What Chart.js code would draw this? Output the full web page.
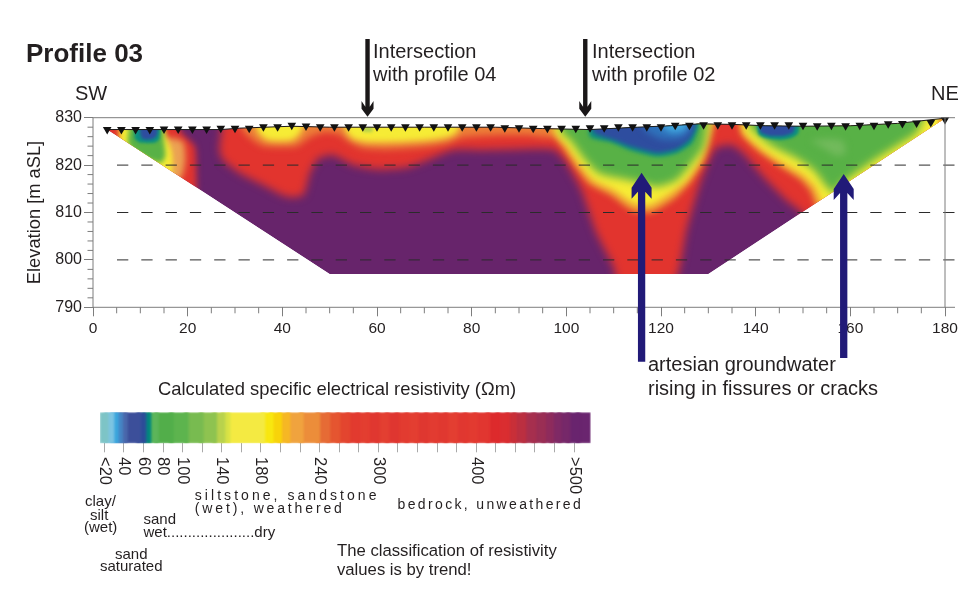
<!DOCTYPE html>
<html><head><meta charset="utf-8">
<script src="https://cdn.jsdelivr.net/npm/chart.js@4"></script>
<style>
html,body{margin:0;padding:0;background:#fff;width:974px;height:600px;overflow:hidden}
canvas{position:absolute;left:0;top:0}
</style></head><body>
<canvas id="profile" width="974" height="600"></canvas>
<canvas id="scale" width="974" height="600"></canvas>
<script>
// ---------- profile geometry (distance m, elevation m aSL)
const surfaceX=[3,27,31,42,50,70,85,95,105,115,122,128,135,142,150,160,170,180];
const surfaceY=[827.5,827.5,827.8,828.2,828,828,828,827.7,827.5,828,828.3,828.7,828.6,828.3,828.2,828.3,828.8,829.9];
const bottomX=[130,50];
const bottomY=[797,797];
// ---------- electrodes
const electrodeX=[3,6,9,12,15,18,21,24,27,30,33,36,39,42,45,48,51,54,57,60,63,66,69,72,75,78,81,84,87,90,93,96,99,102,105,108,111,114,117,120,123,126,129,132,135,138,141,144,147,150,153,156,159,162,165,168,171,174,177,180];
const electrodeY=[827.5,827.5,827.5,827.5,827.6,827.6,827.6,827.6,827.75,827.75,827.75,828.1,828.1,828.4,828.25,828.1,828.1,828.1,828.1,828.1,828.1,828.1,828.1,828.1,828.1,828.1,828.1,828.1,827.9,827.9,827.75,827.75,827.75,827.75,827.9,827.9,828.1,828.1,828.1,828.1,828.4,828.4,828.5,828.5,828.5,828.5,828.5,828.5,828.5,828.4,828.3,828.4,828.3,828.4,828.4,828.7,828.8,828.9,829,829.6];
// ---------- resistivity zones, painted back to front
const zoneRedMain=[[27.5,831],[27,826],[26.7,823.3],[27.5,821],[31,818.3],[35.3,816.1],[41,813.3],[44.4,813.7],[45.8,818.3],[47.6,821.4],[50.8,822.1],[55,820],[60,819.1],[66.3,819.5],[70.5,821],[76,823.2],[81.8,823.2],[88,823.3],[97.3,823.3],[99.7,821],[103.2,814.7],[106.4,805.6],[110,798.5],[111,795],[122.6,795],[125.4,806.3],[128.2,816.1],[131.4,823.5],[135,824.2],[137.4,822.5],[141.6,817.6],[146.5,812.6],[150,809.8],[152,806],[185,806],[185,835],[27.5,835]];
const zoneRedLeft=[[0,831],[16,831],[19,826.5],[21.5,824],[21.8,820],[21.3,813],[10,813],[0,825]];
const zoneOrangeLeft=[[15,826],[19,825],[19.5,821],[18.5,817],[15,817]];
const zoneYellowLeft=[[5.5,831],[14,831],[15.5,826],[16.6,823],[16.8,820],[16,816],[5.5,822]];
const zoneGreenLeft=[[8,831],[14.5,831],[15,825],[15.3,822],[14.5,820.5],[12,821],[8,823.5],[7.3,825]];
const zoneTealLeft=[[8.5,831],[14,831],[14,825.5],[13,824.7],[10,824.7],[8.8,825.5]];
const zoneBlueLeft=[[10,831],[13.5,831],[13.5,826.3],[12.5,825.5],[10.5,825.5],[10,826.5]];
const zoneOrangeTop=[[31,831],[31.5,827.5],[33.5,825.5],[36,824],[43,824],[46,826],[49,827],[52,826.5],[54,825],[57,823.6],[62,823.3],[70,823.8],[75,824.6],[78,825.8],[85,826.3],[92,826.3],[97,826],[99,831]];
const zoneYellowTopA=[[34,831],[34.8,827],[37,825.2],[42,825.2],[44,827],[45,831]];
const zoneYellowTopB=[[52.5,831],[53.5,827],[55,825.5],[58,824.8],[64,824.8],[70.5,825.2],[75,825.9],[77,827],[78,831]];
const zoneSpeck=[[57,828.3],[59,828.3],[59,827],[57,827]];
const zoneOrangeValley=[[96,831],[96.5,827],[99,824],[102,819.5],[104.8,816],[109.5,813.5],[114,810.3],[118,810],[123,813],[126.3,816.5],[129.2,821],[130.6,825.3],[132,831]];
const zoneYellowValley=[[97.3,831],[97.6,827],[100,824.2],[102.9,820],[105.7,816.8],[110,814.7],[114.2,811.9],[117.7,811.5],[122,814],[125.4,816.8],[128.2,821],[129.6,825.3],[131,831]];
const zoneGreenValley=[[98.7,831],[98.9,827],[100.8,825.3],[104,821],[106.8,818.3],[111.3,817.2],[116.3,816.1],[119.1,815.4],[123.3,816.8],[126.5,820.4],[129,823.9],[130.2,831]];
const zoneTealValley=[[105,831],[105,826],[109.2,824.9],[113.4,823.2],[119.1,821.8],[123.3,822.5],[126.5,824.6],[127.9,828.1],[128,831]];
const zoneBlueValley=[[105.6,831],[105.8,826.9],[109.8,825.4],[113.7,823.9],[119.1,822.6],[123.3,823.4],[126,825.4],[127.3,828],[127.4,831]];
const zoneMidBlueValley=[[116,831],[116.5,827.5],[120,825.5],[124,825.5],[126,827],[126.5,831]];
const zoneSkyValley=[[120,831],[120.5,828],[122,827],[124,827],[125.5,828],[125.8,831]];
const zoneOrangeRight=[[136.3,831],[136.8,826.7],[140.8,822.7],[145.7,819.3],[149.3,817],[151.5,814.5],[152.8,811],[154,808],[185,808],[185,835]];
const zoneYellowRight=[[137,831],[137.7,826.7],[141.6,823.2],[146.5,820],[150,817.9],[152.5,815.4],[153.9,812.3],[156,809],[185,809],[185,835]];
const zoneOrangeTip=[[178.6,828],[185,828],[185,835],[178.6,835]];
const zoneGreenRight=[[138.8,831],[138.8,828],[143.7,823.9],[148.7,821.4],[152.2,819],[155,815.4],[156.8,814],[157.5,815.5],[165,821],[170,824.2],[174,826.8],[176,831]];
const zonePaleRight=[[151.5,825.3],[156,825.5],[158.5,825],[159,822.5],[157,822],[155,823.2]];
const zoneTealRight=[[140,831],[140.6,826.5],[142,825.7],[145,825.3],[147.5,825.7],[149,826.7],[149.5,831]];
const zoneBlueRight=[[140.7,831],[141,827],[143,826.2],[146,826.2],[148,827],[148.5,831]];
const zones=[
 [zoneRedMain,'#e2342e',4],[zoneRedLeft,'#e2342e',3],[zoneOrangeLeft,'#eba253',3],[zoneYellowLeft,'#f6ec35',2.5],[zoneGreenLeft,'#58b146',2.5],[zoneTealLeft,'#0b8f80',1.5],[zoneBlueLeft,'#2e4d9f',1.5],
 [zoneOrangeTop,'#ec7f38',3.5],[zoneYellowTopA,'#f6ec35',3],[zoneYellowTopB,'#f6ec35',3],[zoneSpeck,'#b8d24a',1.5],
 [zoneOrangeValley,'#ef9a34',3],[zoneYellowValley,'#f6ec35',3],[zoneGreenValley,'#58b146',4],[zoneTealValley,'#0b8f80',2],[zoneBlueValley,'#2e4d9f',2],[zoneMidBlueValley,'#2f72bb',3.5],[zoneSkyValley,'#41a9e0',3],
 [zoneOrangeRight,'#ef9a34',3],[zoneYellowRight,'#f6ec35',3],[zoneOrangeTip,'#ef9a34',1.5],[zoneGreenRight,'#58b146',4],[zonePaleRight,'#72ba5c',3.5],[zoneTealRight,'#0b8f80',1.5],[zoneBlueRight,'#2e4d9f',1.5]
];
// ---------- axes
const xMajor=20, xStep=5, yMajor=10, yStep=2;
const dashedLevels=[800,810,820];
// ---------- arrows (tip distance, tip elevation, tail elevation)
const blackArrowX=[58,104], blackArrowTip=[830.2,830.2], blackArrowTail=[846.6,846.6];
const blueArrowX=[115.9,158.6], blueArrowTip=[818.4,818.1], blueArrowTail=[778.5,779.3];
// ---------- colour scale
const scaleEdges=[15.6,24.1,29.9,34.3,38.8,43.5,57.2,62.6,67.7,75.2,90.5,105.8,121.1,134.8,143.3,148.4,184.1,192.6,201.2,209.7,223.3,240.3,250.6,260.8,271,281,291,301,311,321,331,341,351,361,371,381,391,401,414,424,434,441,451,461,471,479,487,496,506,517];
const scaleColors=['#7dc4c6','#7cc4e2','#3ba6dd','#4584c4','#4a68ac','#3c4f9a','#2d4d99','#03877e','#5cb55a','#52ae4a','#5db44e','#78bb50','#8ec350','#b9d24c','#d8e245','#f4ea42','#f8e710','#f8d30a','#f6b724','#f0a33e','#ec8d3a','#e66b35','#e55530','#e3452f','#e23a2f','#e33e30','#e03730','#e33f31','#df3630','#e23b30','#e33e31','#df3730','#e23b31','#e03830','#e33e31','#e03730','#e23a30','#e13630','#dd2a2c','#da2d30','#c92f38','#bb2f40','#a62f4e','#9a2e54','#8e2b5c','#7f2965','#762869','#69246e','#6a256f'];
const scaleTicks=[20,40,60,80,100,120,140,160,180,200,220,240,260,280,300,320,340,360,380,400,420,440,460,480,500];
const scaleLabels={20:'<20',40:'40',60:'60',80:'80',100:'100',140:'140',180:'180',240:'240',300:'300',400:'400',500:'>500'};

const FONT='"Liberation Sans", Arial, sans-serif';
const INK='#231f20';
const AXIS='#7d7d7d';
const texts=[
 ['Profile 03',26,55,'bold 26px',0],
 ['SW',75,94,'20px',0],['NE',931,94,'20px',0],
 ['Intersection',373,52,'20px',0],['with profile 04',373,75,'20px',0],
 ['Intersection',592,52,'20px',0],['with profile 02',592,75,'20px',0],
 ['artesian groundwater',648,365,'20px',0],['rising in fissures or cracks',648,389,'20px',0],
 ['Calculated specific electrical resistivity (Ωm)',158,390,'18.4px',0],
 ['clay/',85,502,'15px',0],['silt',90,515.5,'15px',0],['(wet)',84,528,'15px',0],
 ['sand',143.5,519.5,'15px',0],['wet.....................dry',143.5,533,'15px',0],
 ['sand',115,554.5,'15px',0],['saturated',100,566.5,'15px',0],
 ['siltstone, sandstone',194.8,496,'14px','3.05px'],['(wet), weathered',194.8,509,'14px','2.85px'],
 ['bedrock, unweathered',397.6,505,'14px','2.35px'],
 ['The classification of resistivity',337,551,'16.7px',0],['values is by trend!',337,570,'16.7px',0]
];

const toPoints=a=>a.map(p=>({x:p[0],y:p[1]}));
const surfacePoints=surfaceX.map((x,i)=>({x,y:surfaceY[i]}));
const outlinePoints=surfacePoints.concat(bottomX.map((x,i)=>({x,y:bottomY[i]})));

const painted=[
 {label:'bedrock',data:outlinePoints,backgroundColor:'#67246b',fill:'shape',borderWidth:0,pointRadius:0,tension:0,role:'base'}
];
zones.forEach(z=>painted.push({label:'zone',data:toPoints(z[0]),backgroundColor:z[1],fill:'shape',borderWidth:0,pointRadius:0,tension:0.2,blur:z[2],role:'zone'}));
painted.push({label:'surface',data:surfacePoints,borderColor:'#1a1a1a',borderWidth:1,pointRadius:0,fill:false,tension:0,clip:false});
painted.push({label:'electrodes',data:electrodeX.map((x,i)=>({x,y:electrodeY[i]})),showLine:false,pointStyle:'triangle',rotation:180,pointRadius:5,pointBackgroundColor:'#111',pointBorderWidth:0,clip:false});
painted.forEach((d,i)=>{d.order=painted.length-i;d.paintIndex=i;});

function arrow(ctx,x,tipY,tailY,shaft,wing,shoulder,back,join,color){
  const s=tailY>tipY?1:-1;
  ctx.fillStyle=color;ctx.beginPath();
  ctx.moveTo(x,tipY);
  ctx.lineTo(x+wing/2,tipY+s*shoulder);ctx.lineTo(x+wing/2,tipY+s*back);ctx.lineTo(x+shaft/2,tipY+s*join);
  ctx.lineTo(x+shaft/2,tailY);ctx.lineTo(x-shaft/2,tailY);ctx.lineTo(x-shaft/2,tipY+s*join);
  ctx.lineTo(x-wing/2,tipY+s*back);ctx.lineTo(x-wing/2,tipY+s*shoulder);ctx.closePath();ctx.fill();
}
const profilePlugin={
  id:'profileLook',
  beforeDatasetsDraw(chart){
    const c=chart.ctx,sx=chart.scales.x,sy=chart.scales.y;
    c.save();c.beginPath();
    outlinePoints.forEach((p,i)=>{const X=sx.getPixelForValue(p.x),Y=sy.getPixelForValue(p.y);i?c.lineTo(X,Y):c.moveTo(X,Y);});
    c.closePath();c.clip();c.filter='none';
  },
  afterDatasetDraw(chart,args){
    const c=chart.ctx,d=chart.data.datasets[args.index],next=painted[d.paintIndex+1];
    if(d.role&&next&&next.role==='zone'){c.filter='blur('+next.blur+'px)';}
    else if(d.role){c.filter='none';c.restore();}
  },
  afterDatasetsDraw(chart){
    const c=chart.ctx,sx=chart.scales.x,sy=chart.scales.y,a=chart.chartArea;
    c.save();
    // dashed levels
    c.strokeStyle='#2b2b2b';c.lineWidth=1;c.setLineDash([11.3,13]);
    dashedLevels.forEach(v=>{const Y=sy.getPixelForValue(v);c.beginPath();c.moveTo(a.left+24,Y);c.lineTo(a.right+10,Y);c.stroke();});
    c.setLineDash([]);
    // frame
    c.strokeStyle=AXIS;c.lineWidth=1;
    c.beginPath();c.moveTo(a.left,a.top);c.lineTo(a.right+10,a.top);c.moveTo(a.right,a.top);c.lineTo(a.right,a.bottom);
    c.moveTo(a.left,a.top);c.lineTo(a.left,a.bottom);c.moveTo(a.left,a.bottom);c.lineTo(a.right+10,a.bottom);c.stroke();
    // minor ticks
    sx.ticks.forEach(t=>{if(t.value%xMajor){const X=sx.getPixelForValue(t.value);c.beginPath();c.moveTo(X,a.bottom);c.lineTo(X,a.bottom+6);c.stroke();}});
    sy.ticks.forEach(t=>{if(t.value%yMajor){const Y=sy.getPixelForValue(t.value);c.beginPath();c.moveTo(a.left,Y);c.lineTo(a.left-5.5,Y);c.stroke();}});
    // arrows
    blackArrowX.forEach((v,i)=>arrow(c,sx.getPixelForValue(v),sy.getPixelForValue(blackArrowTip[i]),sy.getPixelForValue(blackArrowTail[i]),4.4,12,8,15.7,10,'#1a1718'));
    blueArrowX.forEach((v,i)=>arrow(c,sx.getPixelForValue(v),sy.getPixelForValue(blueArrowTip[i]),sy.getPixelForValue(blueArrowTail[i]),7.3,20,15,26,19,'#211a78'));
    // notes
    c.fillStyle=INK;c.textBaseline='middle';c.textAlign='left';
    texts.forEach(t=>{c.font=t[3]+' '+FONT;c.letterSpacing=t[4]||'0px';c.fillText(t[0],t[1],t[2]);});
    c.letterSpacing='0px';
    c.restore();
  }
};
Chart.defaults.font.family=FONT;
new Chart(document.getElementById('profile'),{
  type:'line',
  data:{datasets:painted},
  options:{responsive:false,animation:false,events:[],
    parsing:{xAxisKey:'x',yAxisKey:'y'},
    layout:{padding:{left:0,top:117.7,right:29,bottom:262.7}},
    plugins:{legend:{display:false},title:{display:false},tooltip:{enabled:false}},
    scales:{
      x:{type:'linear',min:0,max:180,border:{display:false},
        afterFit(s){s.height=30;},
        afterBuildTicks(s){s.ticks=[];for(let v=0;v<=180;v+=xStep)s.ticks.push({value:v});},
        grid:{drawOnChartArea:false,tickLength:9,tickColor:c=>c.tick&&c.tick.value%xMajor===0?AXIS:'rgba(0,0,0,0)'},
        ticks:{autoSkip:false,maxRotation:0,stepSize:xStep,padding:3,color:INK,font:{size:15.5},callback:v=>v%xMajor===0?String(v):''}},
      y:{type:'linear',min:790,max:830,border:{display:false},
        afterFit(s){s.width=93;},
        afterBuildTicks(s){s.ticks=[];for(let v=790;v<=830;v+=yStep)s.ticks.push({value:v});},
        title:{display:true,text:'Elevation [m aSL]',color:INK,font:{size:18.3},padding:{top:24,bottom:0}},
        grid:{drawOnChartArea:false,tickLength:9,tickColor:c=>c.tick&&c.tick.value%yMajor===0?AXIS:'rgba(0,0,0,0)'},
        ticks:{autoSkip:false,stepSize:yStep,padding:2,color:INK,font:{size:16},callback:v=>v%yMajor===0?String(v):''}}
    }
  },
  plugins:[profilePlugin]
});

// ---------- colour scale chart
const scalePlugin={
  id:'scaleLabels',
  beforeDatasetsDraw(chart){chart.ctx.save();chart.ctx.filter='blur(0.8px)';},
  afterDatasetsDraw(chart){chart.ctx.restore();},
  afterDraw(chart){
    const c=chart.ctx,sx=chart.scales.x;
    c.save();c.fillStyle=INK;c.font='16.5px '+FONT;c.textAlign='left';c.textBaseline='middle';
    scaleTicks.forEach(v=>{ if(!scaleLabels[v])return;
      c.save();c.translate(sx.getPixelForValue(v),457);c.rotate(Math.PI/2);c.fillText(scaleLabels[v],0,0);c.restore();});
    c.restore();
  }
};
new Chart(document.getElementById('scale'),{
  type:'bar',
  data:{labels:['scale'],datasets:scaleColors.map((col,i)=>({data:[[Math.max(15.6,scaleEdges[i]-4),scaleEdges[i+1]]],backgroundColor:col,borderWidth:0,barPercentage:1,categoryPercentage:1,grouped:false}))},
  options:{indexAxis:'y',responsive:false,animation:false,events:[],
    layout:{padding:{left:100,top:412.3,right:383.3,bottom:146.7}},
    plugins:{legend:{display:false},title:{display:false},tooltip:{enabled:false}},
    scales:{
      x:{type:'linear',min:15.6,max:517,border:{display:false},
        afterFit(s){s.height=10;},
        afterBuildTicks(s){s.ticks=scaleTicks.map(v=>({value:v}));},
        grid:{drawOnChartArea:false,tickLength:9,tickColor:'#a9a9a9'},
        ticks:{display:false}},
      y:{display:false}
    }
  },
  plugins:[scalePlugin]
});
</script></body></html>
